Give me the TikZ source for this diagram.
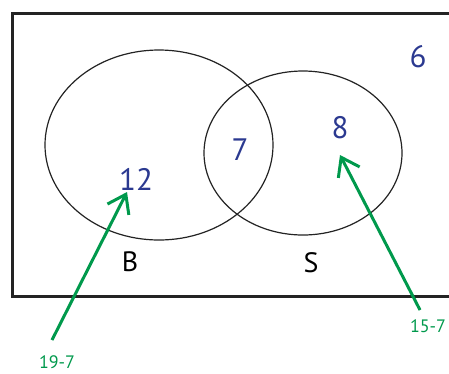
\documentclass[tikz,border=0pt]{standalone}
\usepackage{fontspec}
\setmainfont{PT Sans}
\definecolor{numblue}{RGB}{43,57,144}
\definecolor{arrowgreen}{RGB}{0,153,76}
\definecolor{edgegray}{RGB}{35,35,35}
\usetikzlibrary{arrows.meta}

\begin{document}
\begin{tikzpicture}[x=1pt,y=-1pt,
    region/.style={font=\fontsize{31}{32}\selectfont, text=numblue, inner sep=0pt},
    setname/.style={font=\fontsize{28}{29}\selectfont, text=black, inner sep=0pt},
    calc/.style={font=\fontsize{18}{19}\selectfont, text=arrowgreen, inner sep=0pt},
    pointer/.style={arrowgreen, line width=3pt, -{Straight Barb[length=17pt,width=24pt,line width=3pt]}}]
      \useasboundingbox (0,0) rectangle (449,373);
      % Universal set
      \draw[edgegray, line width=3pt] (12,13) rectangle (470,296);
      % Sets B and S
      \draw[edgegray, line width=1.2pt] (159,145) ellipse [x radius=114, y radius=95];
      \draw[edgegray, line width=1.2pt] (303,153) ellipse [x radius=99, y radius=82];
      % Region counts
      \node[region] (n6) at (418,57) {6};
      \node[region] (n8) at (340,128) {8};
      \node[region] (n7) at (240,150) {7};
      \node[region] (n12) at (136,179) {12};
      % Set names
      \node[setname] (nB) at (130,262) {B};
      \node[setname] (nS) at (311,263) {S};
      % Working for the counts
      \node[calc] (l19) at (57,362) {19-7};
      \node[calc] (l15) at (428,326) {15-7};
      \coordinate (tail1) at (52,340);
      \coordinate (tip1) at (127,192);
      \coordinate (tail2) at (420,310);
      \coordinate (tip2) at (340,155);
      \draw[pointer] (tail1) -- (tip1);
      \draw[pointer] (tail2) -- (tip2);
    \end{tikzpicture}
\end{document}
